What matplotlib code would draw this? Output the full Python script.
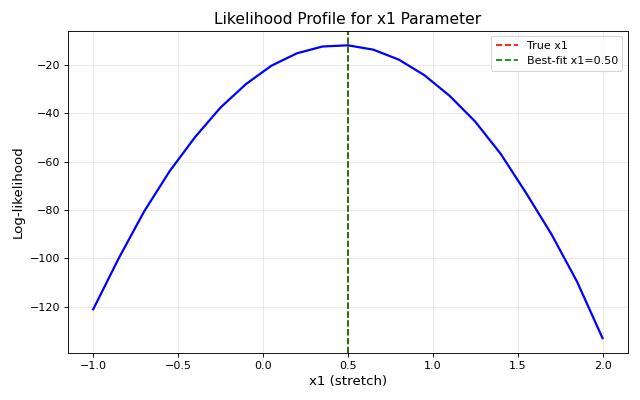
import matplotlib
matplotlib.use("Agg")
import matplotlib.pyplot as plt

# profile grid and log-likelihood values
x1_values = [-1.0, -0.85, -0.7, -0.55, -0.4, -0.25, -0.1, 0.05, 0.2, 0.35, 0.5,
             0.65, 0.8, 0.95, 1.1, 1.25, 1.4, 1.55, 1.7, 1.85, 2.0]
log_lik = [-121.0, -100.0, -80.6, -64.0, -49.9, -37.7, -28.0, -20.4, -15.3, -12.5, -12.0,
           -13.8, -17.9, -24.3, -32.9, -43.5, -56.8, -73.0, -90.1, -109.6, -132.9]
true_x1 = 0.5
best_x1 = 0.5

fig, ax = plt.subplots(figsize=(8, 5), dpi=80)
ax.plot(x1_values, log_lik, color="blue", linewidth=2)
ax.axvline(true_x1, color="red", linestyle="--", label="True x1")
ax.axvline(best_x1, color="green", linestyle="--", label=f"Best-fit x1={best_x1:.2f}")

ax.set_xlabel("x1 (stretch)", fontsize=12)
ax.set_ylabel("Log-likelihood", fontsize=12)
ax.set_title("Likelihood Profile for x1 Parameter", fontsize=14)
ax.legend()
ax.grid(True, alpha=0.3)

plt.tight_layout()
plt.savefig("out.png", dpi=80)
